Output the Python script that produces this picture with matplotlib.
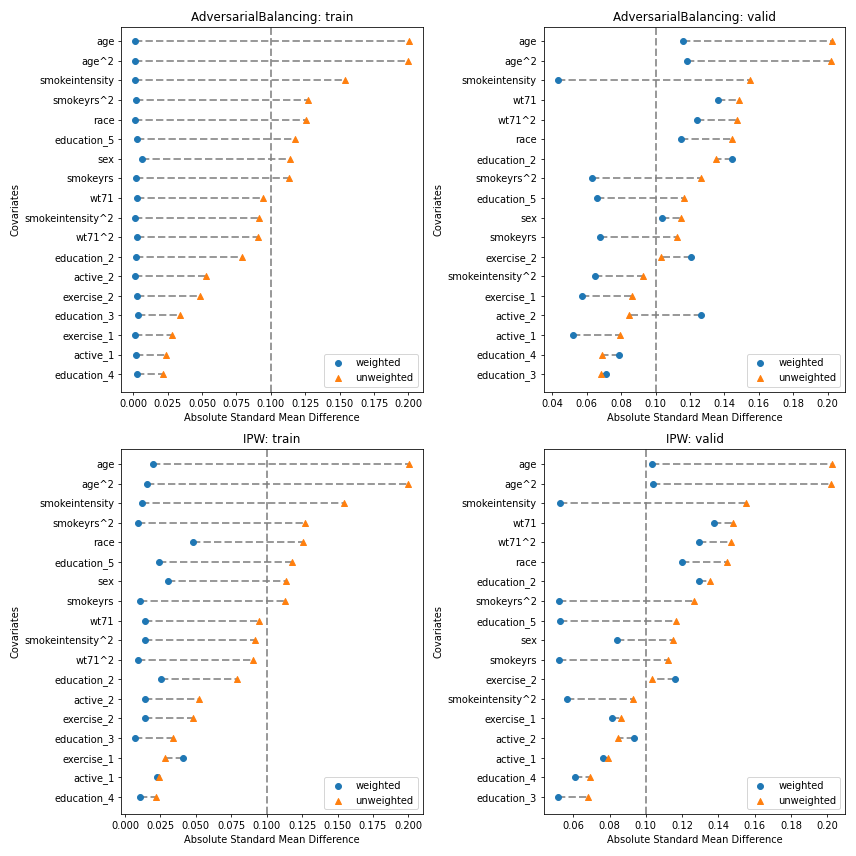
import matplotlib
matplotlib.use('Agg')
import matplotlib.pyplot as plt

# covariates ordered by unweighted ASMD (largest first)
covs_train = ["age", "age^2", "smokeintensity", "smokeyrs^2", "race", "education_5",
              "sex", "smokeyrs", "wt71", "smokeintensity^2", "wt71^2", "education_2",
              "active_2", "exercise_2", "education_3", "exercise_1", "active_1", "education_4"]
covs_valid = ["age", "age^2", "smokeintensity", "wt71", "wt71^2", "race", "education_2",
              "smokeyrs^2", "education_5", "sex", "smokeyrs", "exercise_2",
              "smokeintensity^2", "exercise_1", "active_2", "active_1", "education_4", "education_3"]

unweighted_train = [0.2004, 0.1997, 0.1542, 0.1268, 0.1254, 0.1176, 0.1137, 0.1129, 0.0945,
                    0.0915, 0.0904, 0.0792, 0.0525, 0.0483, 0.0337, 0.0284, 0.0236, 0.0218]
unweighted_valid = [0.2023, 0.2017, 0.1550, 0.1482, 0.1471, 0.1445, 0.1352, 0.1263, 0.1164,
                    0.1147, 0.1123, 0.1032, 0.0929, 0.0865, 0.0846, 0.0793, 0.0690, 0.0681]

ab_train = [0.0012, 0.0012, 0.0012, 0.0019, 0.0012, 0.0024, 0.0063, 0.0019, 0.0024,
            0.0012, 0.0024, 0.0019, 0.0012, 0.0024, 0.0034, 0.0012, 0.0019, 0.0024]
ab_valid = [0.1162, 0.1181, 0.0431, 0.1365, 0.1238, 0.1150, 0.1442, 0.0633, 0.0662,
            0.1037, 0.0677, 0.1204, 0.0650, 0.0575, 0.1262, 0.0523, 0.0788, 0.0713]
ipw_train = [0.0196, 0.0154, 0.0119, 0.0091, 0.0483, 0.0238, 0.0301, 0.0105, 0.0140,
             0.0140, 0.0091, 0.0252, 0.0140, 0.0140, 0.0070, 0.0406, 0.0224, 0.0105]
ipw_valid = [0.1033, 0.1039, 0.0525, 0.1377, 0.1290, 0.1197, 0.1290, 0.0520, 0.0525,
             0.0842, 0.0520, 0.1159, 0.0564, 0.0815, 0.0935, 0.0762, 0.0607, 0.0514]

panels = [
    ("AdversarialBalancing: train", covs_train, ab_train, unweighted_train),
    ("AdversarialBalancing: valid", covs_valid, ab_valid, unweighted_valid),
    ("IPW: train", covs_train, ipw_train, unweighted_train),
    ("IPW: valid", covs_valid, ipw_valid, unweighted_valid),
]

fig, axes = plt.subplots(2, 2, figsize=(12, 12))
for ax, (title, covs, w, uw) in zip(axes.flat, panels):
    y = list(range(len(covs)))[::-1]
    ax.hlines(y, w, uw, colors='gray', linestyles='--', linewidth=2, alpha=0.8, zorder=1)
    ax.scatter(w, y, marker='o', color='#1f77b4', label='weighted', zorder=3)
    ax.scatter(uw, y, marker='^', color='#ff7f0e', label='unweighted', zorder=3)
    ax.axvline(0.1, color='gray', linestyle='--', linewidth=2, alpha=0.8, zorder=0)
    ax.set_yticks(y)
    ax.set_yticklabels(covs)
    ax.set_ylim(-0.9, len(covs) - 0.25)
    ax.set_title(title)
    ax.set_xlabel('Absolute Standard Mean Difference')
    ax.set_ylabel('Covariates')
    ax.legend(loc='lower right')

plt.tight_layout()
plt.savefig('out.png', dpi=856 / 12)
